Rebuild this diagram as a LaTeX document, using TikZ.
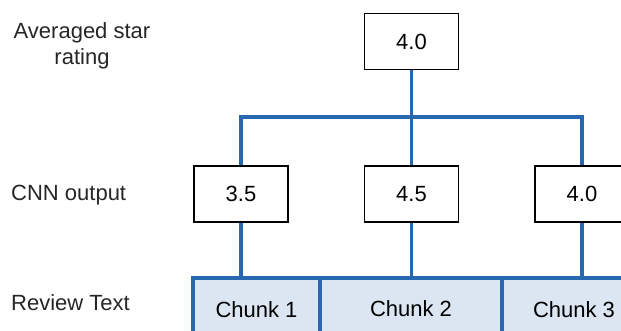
\documentclass[tikz,border=0pt]{standalone}
\usepackage{fontspec}
\setmainfont{Liberation Sans}
\usepackage{tikz}
\usetikzlibrary{positioning}
\definecolor{cnnblue}{RGB}{40,104,176}
\definecolor{cnnfill}{RGB}{220,230,242}
\tikzstyle{score} = [rectangle, minimum width=94pt, minimum height=56pt, text centered, draw=black, fill=white, line width=1.5pt]
\tikzstyle{chunk} = [rectangle, minimum height=64pt, text centered, draw=cnnblue, fill=cnnfill, line width=3.2pt, outer sep=0pt]
\tikzstyle{link} = [line width=3.5pt, color=cnnblue]
\tikzstyle{rowlabel} = [inner sep=0pt, anchor=west, text=black!85]

\begin{document}
\begin{tikzpicture}[x=1pt, y=1pt, node distance=75pt, font=\fontsize{22}{25.5}\selectfont]
\useasboundingbox (0,0) rectangle (621,-331);
\clip (0,0) rectangle (621,-331);
% row labels
\node (avglabel) [rowlabel, anchor=center, align=center] at (82,-46) {Averaged star\\rating};
\node (cnnlabel) [rowlabel] at (11,-195) {CNN output};
\node (reviewlabel) [rowlabel] at (11,-303) {Review Text};
% review text chunks
\node (chunk1) [chunk, anchor=north west, minimum width=127pt] at (193,-278) {Chunk 1};
\node (chunk2) [chunk, minimum width=182pt, right=0pt of chunk1] {\raisebox{3pt}{Chunk 2}};
\node (chunk3) [chunk, minimum width=144pt, right=0pt of chunk2] {Chunk 3};
% scores
\node (out2) [score] at (411.5,-194) {4.5};
\node (out1) [score, left=of out2] {3.5};
\node (out3) [score, right=of out2] {4.0};
\node (avg) [score, above=95pt of out2] {4.0};
\coordinate [below=47pt of avg.south] (bus);
% connectors
\draw[link] (avg) -- (bus);
\draw[link] (out1) |- (bus) -| (out3);
\draw[link] (bus) -- (out2);
\draw[link] (out1) -- (out1 |- chunk1.north);
\draw[link] (out2) -- (out2 |- chunk2.north);
\draw[link] (out3) -- (out3 |- chunk3.north);
\end{tikzpicture}
\end{document}
